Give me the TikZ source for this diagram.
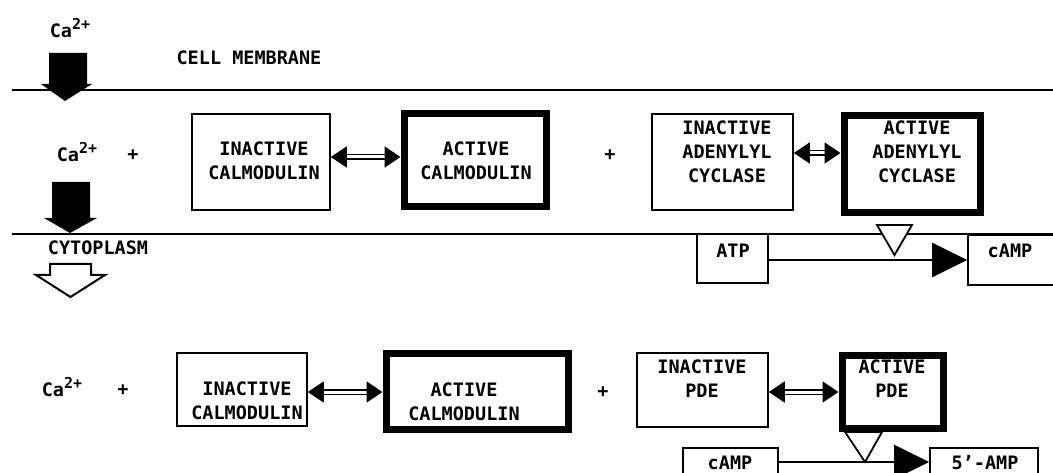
\documentclass[tikz,border=0pt]{standalone}
\usepackage{fontspec}
\setmonofont{DejaVu Sans Mono}
\usetikzlibrary{arrows.meta,calc}
\newcommand{\catwo}{Ca\raisebox{0.42em}{\fontsize{15}{15}\selectfont 2+}}
\begin{document}
\begin{tikzpicture}[x=1pt,y=-1pt,
  txt/.style={font=\ttfamily\bfseries\fontsize{18.5}{24}\selectfont, inner sep=0pt, align=center},
  thinbox/.style={draw, line width=1.6pt, inner sep=0pt},
  thickbox/.style={draw, line width=7pt, inner sep=0pt},
  dbl/.style={double, double distance=3pt, line width=1.6pt, {Triangle[length=16pt,width=21pt]}-{Triangle[length=16pt,width=21pt]}},
  rxn/.style={line width=2pt, -{Triangle[length=35pt,width=34pt]}},
  blockarrow/.style={fill=black},
  hollowarrow/.style={draw, line width=2pt, fill=white},
  hollowtri/.style={draw, line width=1.8pt, fill=white},
  membrane/.style={line width=1.6pt}
]
\useasboundingbox (0,0) rectangle (1053,473);

% membranes
\draw[membrane] (12,90) -- (1060,90);
\draw[membrane] (12,234) -- (1060,234);

% labels
\node[txt] (ca0) at (70,28) {\catwo};
\node[txt] (cellmem) at (249,58) {CELL MEMBRANE};
\node[txt] (ca1) at (77,152) {\catwo};
\node[txt] (plus1) at (133,155) {+};
\node[txt] (cyto) at (98,248) {CYTOPLASM};
\node[txt] (plus2) at (610,155) {+};

% block arrows
\fill[blockarrow] (49,53) -- (87,53) -- (87,84) -- (92,84) -- (65,101) -- (41,84) -- (49,84) -- cycle;
\fill[blockarrow] (52,182) -- (90,182) -- (90,218) -- (97,218) -- (70,233) -- (44,218) -- (52,218) -- cycle;
\draw[hollowarrow] (50,264) -- (91,264) -- (91,275) -- (105,275) -- (70.5,297) -- (36,275) -- (50,275) -- cycle;

% top row boxes
\node[thinbox, minimum width=138pt, minimum height=96pt] (ic1) at (261,162) {};
\node[txt] (ic1t) at (264,161) {INACTIVE\\CALMODULIN};
\node[thickbox, minimum width=142pt, minimum height=93pt] (ac1) at (475,160.5) {};
\node[txt] (ac1t) at (476,161) {ACTIVE\\CALMODULIN};
\node[thinbox, minimum width=141pt, minimum height=96pt] (iac) at (722.5,162) {};
\node[txt] (iact) at (727,152) {INACTIVE\\ADENYLYL\\CYCLASE};
\node[thickbox, minimum width=136pt, minimum height=97pt] (aac) at (912,164.5) {};
\node[txt] (aact) at (917,152) {ACTIVE\\ADENYLYL\\CYCLASE};

\draw[dbl] ([yshift=5pt]ic1.east) -- ([yshift=5pt]ic1.east -| ac1.west);
\draw[dbl] ([yshift=9pt]iac.east) -- ([yshift=9pt]iac.east -| aac.west);

% ATP -> cAMP
\node[thinbox, minimum width=71pt, minimum height=49pt] (atp) at (732.5,258.5) {};
\node[txt] (atpt) at (733,251) {ATP};
\node[thinbox, minimum width=92pt, minimum height=50pt] (camp1) at (1014,260) {};
\node[txt] (camp1t) at (1010,251) {cAMP};
\draw[rxn] (atp.east |- 0,260) -- (camp1.west |- 0,260);
\draw[hollowtri] (877,225) -- (912,225) -- (894.5,255) -- cycle;

% bottom row
\node[txt] (ca2) at (62,387) {\catwo};
\node[txt] (plus3) at (123,390) {+};
\node[thinbox, minimum width=130pt, minimum height=73pt] (ic2) at (242,389.5) {};
\node[txt] (ic2t) at (247,401) {INACTIVE\\CALMODULIN};
\node[thickbox, minimum width=182pt, minimum height=76pt] (ac2) at (477,391) {};
\node[txt] (ac2t) at (464,402) {ACTIVE\\CALMODULIN};
\node[txt] (plus4) at (603,392) {+};
\node[thinbox, minimum width=131pt, minimum height=74pt] (ipde) at (702.5,390) {};
\node[txt] (ipdet) at (702,379) {INACTIVE\\PDE};
\node[thickbox, minimum width=101pt, minimum height=73pt] (apde) at (892.5,391.5) {};
\node[txt] (apdet) at (892,379) {ACTIVE\\PDE};

\draw[dbl] (ic2.east |- 0,392) -- (ac2.west |- 0,392);
\draw[dbl] (ipde.east |- 0,392) -- (apde.west |- 0,392);

% cAMP -> 5'-AMP
\node[thinbox, minimum width=95pt, minimum height=40pt] (camp2) at (730.5,468) {};
\node[txt] (camp2t) at (730,463) {cAMP};
\node[thinbox, minimum width=108pt, minimum height=40pt] (amp) at (984,468) {};
\node[txt] (ampt) at (985,463) {5’-AMP};
\draw[rxn] (camp2.east |- 0,462) -- (amp.west |- 0,462);
\draw[hollowtri] (845,432) -- (882,432) -- (865,462) -- cycle;
\end{tikzpicture}
\end{document}
